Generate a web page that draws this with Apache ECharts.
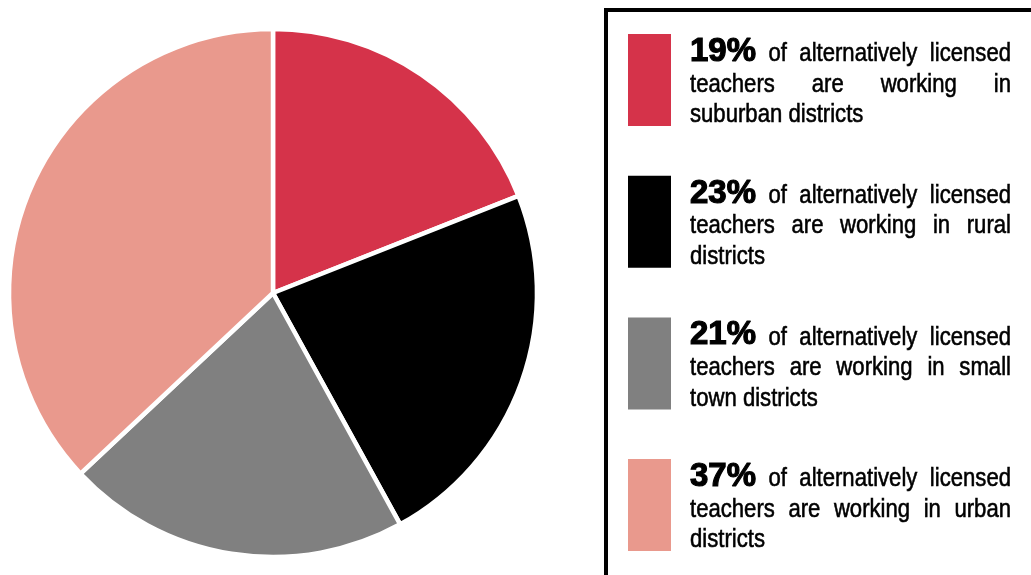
<!DOCTYPE html>
<html>
<head>
<meta charset="utf-8">
<script src="https://cdn.jsdelivr.net/npm/echarts@6/dist/echarts.min.js"></script>
<style>
  html, body { margin: 0; padding: 0; background: #ffffff; }
  #chart { width: 1031px; height: 575px; }
</style>
</head>
<body>
<div id="chart"></div>
<script>
// Where alternatively licensed teachers work, by district type (share of teachers, %)
const categories = ['suburban', 'rural', 'small town', 'urban'];
const shares = [19, 23, 21, 37];
const sliceColors = ['#D5334A', '#000000', '#808080', '#E9998D'];
const captionLead = 'of alternatively licensed teachers are working in';
const captionTail = 'districts';

// ---- typography: a condensed grotesque made by narrowing the glyphs ------
const measureCtx = document.createElement('canvas').getContext('2d');
const FAMILY = "'Liberation Sans', Arimo, sans-serif";
const REG = { size: 25, weight: 'normal', scale: 0.885, stroke: 0.55 };
const BOLD = { size: 34, weight: 'bold', scale: 0.97, stroke: 1.2 };

function fontOf(f) { return f.weight + ' ' + f.size + 'px ' + FAMILY; }
function wordWidth(text, f) {
  measureCtx.font = fontOf(f);
  return measureCtx.measureText(text).width * f.scale;
}

// ---- legend panel layout --------------------------------------------------
const PANEL = { x: 606, y: 10, border: 4 };
const SWATCH = { x: 628, w: 43, h: 92, top: 34, step: 141.7 };
const TEXT = { x: 690, width: 321, firstBaseline: 27.5, lineStep: 30.5 };

function buildLegend() {
  const els = [];
  els.push({
    type: 'rect', silent: true, z: 10,
    shape: { x: PANEL.x, y: PANEL.y, width: 700, height: 800 },
    style: { fill: 'none', stroke: '#000000', lineWidth: PANEL.border }
  });
  const spaceW = wordWidth(' ', REG);
  categories.forEach((cat, i) => {
    const top = SWATCH.top + i * SWATCH.step;
    els.push({
      type: 'rect', silent: true, z: 10,
      shape: { x: SWATCH.x, y: top, width: SWATCH.w, height: SWATCH.h },
      style: { fill: sliceColors[i] }
    });
    const words = [{ t: shares[i] + '%', f: BOLD }]
      .concat((captionLead + ' ' + cat + ' ' + captionTail).split(' ').map(t => ({ t, f: REG })));
    words.forEach(w => { w.w = wordWidth(w.t, w.f); });
    // greedy wrap into the text column
    const lines = [];
    let cur = [], curW = 0;
    words.forEach(w => {
      const add = cur.length ? spaceW + w.w : w.w;
      if (cur.length && curW + add > TEXT.width) {
        lines.push(cur); cur = [w]; curW = w.w;
      } else { cur.push(w); curW += add; }
    });
    if (cur.length) lines.push(cur);
    // justified lines, last line set ragged
    lines.forEach((line, li) => {
      const baseline = top + TEXT.firstBaseline + li * TEXT.lineStep;
      const sum = line.reduce((a, w) => a + w.w, 0);
      const last = li === lines.length - 1;
      const gap = (!last && line.length > 1) ? (TEXT.width - sum) / (line.length - 1) : spaceW;
      let x = TEXT.x;
      line.forEach(w => {
        els.push({
          type: 'text', silent: true, z: 11,
          x: x, y: baseline - 0.29 * w.f.size, scaleX: w.f.scale,
          style: {
            text: w.t, x: 0, y: 0, fill: '#000000',
            stroke: '#000000', lineWidth: w.f.stroke,
            font: fontOf(w.f),
            align: 'left', verticalAlign: 'middle'
          }
        });
        x += w.w + gap;
      });
    });
  });
  return els;
}

const chart = echarts.init(document.getElementById('chart'), null, { renderer: 'canvas' });
chart.setOption({
  animation: false,
  backgroundColor: '#ffffff',
  series: [{
    type: 'pie',
    center: [273, 293],
    radius: 264,
    startAngle: 90,
    clockwise: true,
    silent: true,
    label: { show: false },
    labelLine: { show: false },
    emphasis: { disabled: true },
    itemStyle: { borderColor: '#ffffff', borderWidth: 4.5 },
    data: categories.map((c, i) => ({ name: c, value: shares[i], itemStyle: { color: sliceColors[i] } }))
  }],
  graphic: buildLegend()
});
</script>
</body>
</html>
